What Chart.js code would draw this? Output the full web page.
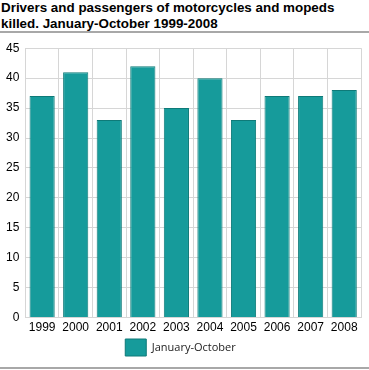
<!DOCTYPE html>
<html><head><meta charset="utf-8">
<script src="https://cdn.jsdelivr.net/npm/chart.js@4"></script>
<style>
html,body{margin:0;padding:0;background:#fff;width:369px;height:370px;overflow:hidden;}
#title{position:absolute;left:1px;top:0px;font:bold 13.4px "Liberation Sans",Arial,sans-serif;line-height:16px;color:#000;}
#topline{position:absolute;left:0;top:31px;width:369px;height:2px;background:#a8a8a8;}
#botline{position:absolute;left:0;top:367px;width:369px;height:2px;background:#a8a8a8;}
#wrap{position:absolute;left:0;top:35px;width:369px;height:331px;}
</style></head><body>
<div id="title">Drivers and passengers of motorcycles and mopeds<br>killed. January-October 1999-2008</div>
<div id="topline"></div>
<div id="wrap"><canvas id="c" width="369" height="331"></canvas></div>
<div id="botline"></div>
<script>
const categories = ["1999","2000","2001","2002","2003","2004","2005","2006","2007","2008"];
const seriesName = "January-October";
const values = [37,41,33,42,35,40,33,37,37,38];
const yTicks = [0,5,10,15,20,25,30,35,40,45];

new Chart(document.getElementById('c'), {
  type: 'bar',
  data: {labels: categories, datasets: [{label: seriesName, data: values,
    backgroundColor: '#169b9b', borderColor: '#0e7a78', borderWidth: 1,
    barPercentage: 0.75, categoryPercentage: 1}]},
  options: {
    responsive: false, animation: false,
    layout: {padding: {top: 2, right: 8, left: 0, bottom: 0}},
    plugins: {
      legend: {position: 'bottom', labels: {boxWidth: 21, boxHeight: 17, padding: 1,
        color: '#222', font: {family: '"Open Sans", sans-serif', size: 11}}},
      tooltip: {enabled: false}
    },
    scales: {
      x: {grid: {color: '#d6d6d6', offset: true, drawTicks: false},
          border: {color: '#d6d6d6'},
          ticks: {color: '#000', padding: 3, font: {family: '"Liberation Sans", Arial', size: 12}}},
      y: {min: 0, max: 45, afterBuildTicks: a => { a.ticks = yTicks.map(v => ({value: v})); },
          grid: {color: '#d6d6d6', drawTicks: false},
          border: {color: '#d6d6d6'},
          ticks: {color: '#000', padding: 6, font: {family: '"Liberation Sans", Arial', size: 12}}}
    }
  }
});
</script>
</body></html>
